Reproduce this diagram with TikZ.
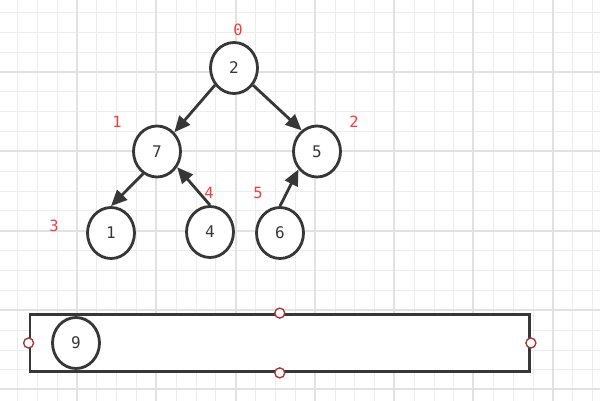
\documentclass[tikz,border=0pt]{standalone}
\usepackage{fontspec}
\setmonofont{DejaVu Sans Mono}
\usetikzlibrary{shapes.geometric,arrows.meta}
\definecolor{minorgrid}{RGB}{237,237,237}
\definecolor{majorgrid}{RGB}{226,226,226}
\definecolor{ink}{RGB}{55,55,55}
\definecolor{idx}{RGB}{240,64,64}
\definecolor{handle}{RGB}{160,60,60}
\tikzset{
  minorline/.style={draw=minorgrid, line width=1pt},
  majorline/.style={draw=majorgrid, line width=2pt},
  heapnode/.style={ellipse, draw=ink, fill=white, line width=2.8pt, minimum width=47pt, minimum height=51pt, inner sep=0pt, font=\fontsize{16}{16}\ttfamily, text=ink},
  idxlabel/.style={font=\fontsize{15.5}{15.5}\ttfamily, text=idx, inner sep=0pt},
  edge/.style={draw=ink, line width=2.8pt, -{Triangle[length=16pt,width=14pt]}},
  panel/.style={rectangle, draw=ink, fill=white, line width=2.8pt, minimum width=499.5pt, minimum height=57pt, inner sep=0pt},
  grip/.style={circle, draw=handle, fill=white, line width=1.4pt, minimum size=10pt, inner sep=0pt}
}
\begin{document}
\begin{tikzpicture}[x=1pt,y=-1pt]
\useasboundingbox (0,0) rectangle (600,401);
\fill[white] (0,0) rectangle (600,401);
% grid
\foreach \xx in {17.5,37.5,57.5,96.5,116.5,136.5,176.5,196.5,215.5,255.5,275.5,295.5,335.5,354.5,374.5,414.5,434.5,453.5,493.5,513.5,533.5,572.5,592.5} {
  \draw[minorline] (\xx,0) -- (\xx,401);
}
\foreach \yy in {12.5,32.5,52.5,91.5,111.5,131.5,171.5,191.5,210.5,250.5,270.5,290.5,330.5,350.5,369.5} {
  \draw[minorline] (0,\yy) -- (600,\yy);
}
\foreach \xx in {77,156,236,315,394,473,553} {
  \draw[majorline] (\xx,0) -- (\xx,401);
}
\foreach \yy in {72,151,231,310,389} {
  \draw[majorline] (0,\yy) -- (600,\yy);
}
% tree nodes
\node[heapnode] (n2) at (234,68) {2};
\node[heapnode] (n7) at (157,151.5) {7};
\node[heapnode] (n5) at (317,151.5) {5};
\node[heapnode] (n1) at (111,233) {1};
\node[heapnode] (n4) at (210,232) {4};
\node[heapnode] (n6) at (280,233) {6};
% index labels
\node[idxlabel] (l0) at (238,30) {0};
\node[idxlabel] (l1) at (117,122) {1};
\node[idxlabel] (l2) at (354,122) {2};
\node[idxlabel] (l3) at (54,226) {3};
\node[idxlabel] (l4) at (209,193) {4};
\node[idxlabel] (l5) at (258,193) {5};
% edges
\draw[edge] (n2.222) -- (n7.48);
\draw[edge] (n2.-42) -- (n5.126);
\draw[edge] (n7.238) -- (n1.north);
\draw[edge] (n4.north) -- (n7.-38);
\draw[edge] (n6.north) -- (n5.224);
% bottom panel
\node[panel] (box) at (279.75,343) {};
\node[heapnode] (n9) at (76,343) {9};
\node[grip] (gw) at (box.west) {};
\node[grip] (ge) at (box.east) {};
\node[grip] (gn) at (box.north) {};
\node[grip] (gs) at (box.south) {};
\end{tikzpicture}
\end{document}
